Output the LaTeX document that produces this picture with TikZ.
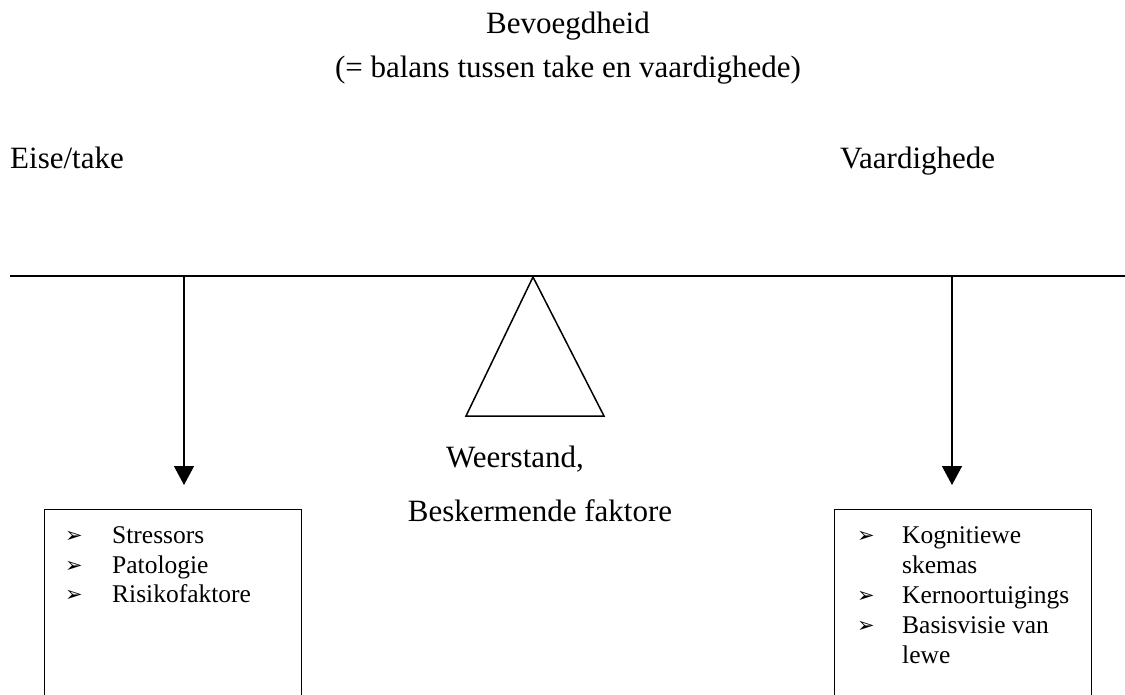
\documentclass[tikz,border=0pt]{standalone}
\usepackage{fontspec}
\setmainfont{Liberation Serif}
\newfontfamily\symfont{DejaVu Sans}
\usetikzlibrary{arrows.meta}
\begin{document}
\begin{tikzpicture}[x=1pt,y=-1pt,
  big/.style={font=\fontsize{31}{36}\selectfont, inner sep=0pt},
  item/.style={font=\fontsize{25.5}{30}\selectfont, inner sep=0pt, anchor=base west},
  bulletmark/.style={font=\symfont\fontsize{21}{24}\selectfont, inner sep=0pt, anchor=base west},
  listbox/.style={draw, line width=1.4pt, minimum width=257pt, minimum height=260pt,
                  anchor=north west, inner sep=0pt},
  beam/.style={line width=2.4pt},
  pivot/.style={line width=1.5pt, line join=miter},
  drop/.style={line width=1.4pt, -{Triangle[length=19pt,width=20pt]}},
]
\clip (0,0) rectangle (1125,694);
\fill[white] (0,0) rectangle (1125,694);

% headings
\node[big, anchor=base] (title) at (568,33) {Bevoegdheid};
\node[big, anchor=base] (sub) at (568,77) {(= balans tussen take en vaardighede)};
\node[big, anchor=base west] (eise) at (10,168) {Eise/take};
\node[big, anchor=base west] (vaard) at (840,168) {Vaardighede};

% the balance beam and its pivot
\coordinate (bl) at (10,276);
\coordinate (br) at (1126,276);
\draw[beam] (bl) -- (br);
\coordinate (apex) at (533,277);
\coordinate (pl) at (466,416);
\coordinate (pr) at (604,416);
\draw[pivot] (apex) -- (pl) -- (pr) -- cycle;

\node[big, anchor=base] (weer) at (515,467) {Weerstand,};
\node[big, anchor=base] (besk) at (540,521) {Beskermende faktore};

% hanging loads
\coordinate (la) at (184,276);
\coordinate (lt) at (184,485);
\draw[drop] (la) -- (lt);
\coordinate (ra) at (952,276);
\coordinate (rt) at (952,485);
\draw[drop] (ra) -- (rt);

% left list
\node[listbox] (lbox) at (44,509) {};
\node[bulletmark] (lb1) at (65,542) {➢};
\node[item] (l1) at (112,543) {Stressors};
\node[bulletmark] (lb2) at (65,572) {➢};
\node[item] (l2) at (112,573) {Patologie};
\node[bulletmark] (lb3) at (65,601) {➢};
\node[item] (l3) at (112,602) {Risikofaktore};

% right list
\node[listbox] (rbox) at (834,509) {};
\node[bulletmark] (rb1) at (857,542) {➢};
\node[item] (r1) at (902,543) {Kognitiewe};
\node[item] (r2) at (902,573) {skemas};
\node[bulletmark] (rb3) at (857,602) {➢};
\node[item] (r3) at (902,603) {Kernoortuigings};
\node[bulletmark] (rb4) at (857,632) {➢};
\node[item] (r4) at (902,633) {Basisvisie van};
\node[item] (r5) at (902,663) {lewe};
\end{tikzpicture}
\end{document}
